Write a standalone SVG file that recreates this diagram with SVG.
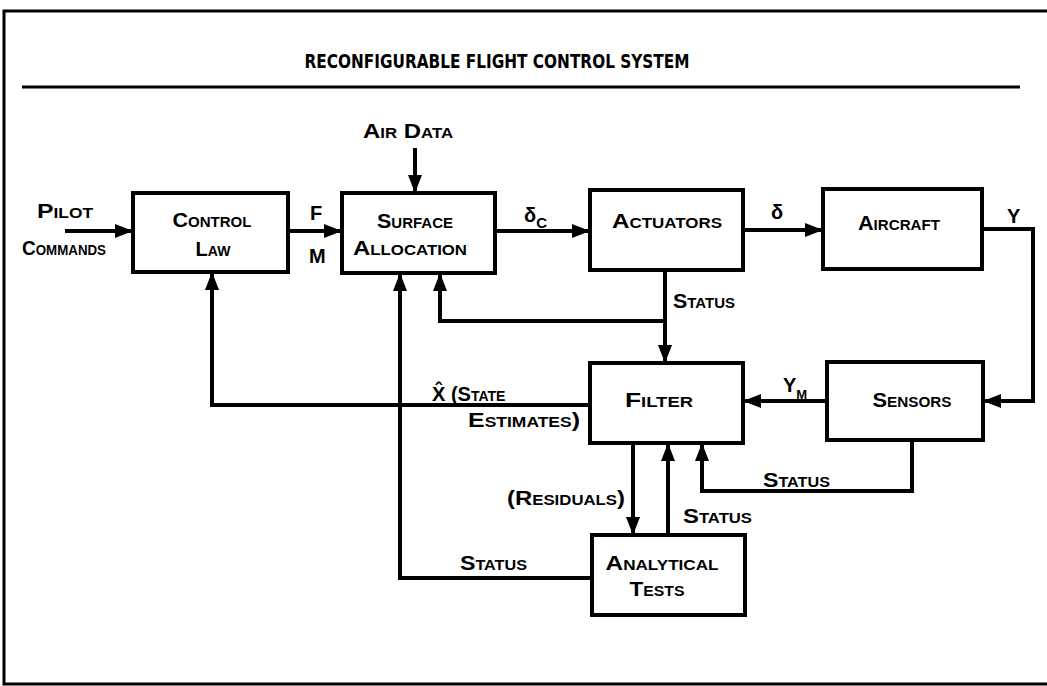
<svg xmlns="http://www.w3.org/2000/svg" width="1047" height="686" viewBox="0 0 1047 686">
<style>
.box{fill:#fff;stroke:#000;stroke-width:4}
.ln{fill:none;stroke:#000;stroke-width:4}
.t{font-family:"Liberation Sans",Arial,sans-serif;font-weight:bold;font-size:20px;font-variant:small-caps;fill:#000}
.n{font-variant:normal}
.c{text-anchor:middle}
.title{font-family:"DejaVu Sans Condensed","Liberation Sans",sans-serif;font-weight:bold;font-size:20px;fill:#000}
</style>
<defs>
<marker id="ah" markerUnits="userSpaceOnUse" markerWidth="20" markerHeight="16" refX="18" refY="8" orient="auto">
<path d="M0,1 L18,8 L0,15 Z" fill="#000"/>
</marker>
</defs>
<rect width="1047" height="686" fill="#fff"/>
<g id="frame">
<path d="M1047 11 H4 V684 H1047" fill="none" stroke="#000" stroke-width="3"/>
<line x1="22" y1="87" x2="1020" y2="87" stroke="#000" stroke-width="3"/>
<text class="title" x="497" y="68" text-anchor="middle" textLength="385" lengthAdjust="spacingAndGlyphs">RECONFIGURABLE FLIGHT CONTROL SYSTEM</text>
</g>
<g id="connectors">
<path class="ln" d="M65 231 H133" marker-end="url(#ah)"/>
<path class="ln" d="M288 231 H342" marker-end="url(#ah)"/>
<path class="ln" d="M415 148 V193" marker-end="url(#ah)"/>
<path class="ln" d="M495 231 H590" marker-end="url(#ah)"/>
<path class="ln" d="M743 230 H823" marker-end="url(#ah)"/>
<path class="ln" d="M982 229 H1033 V401 H983" marker-end="url(#ah)"/>
<path class="ln" d="M827 401 H743" marker-end="url(#ah)"/>
<path class="ln" d="M912 440 V491 H702 V443" marker-end="url(#ah)"/>
<path class="ln" d="M665 270 V363" marker-end="url(#ah)"/>
<path class="ln" d="M665 321 H440 V273" marker-end="url(#ah)"/>
<path class="ln" d="M590 405 H212 V272" marker-end="url(#ah)"/>
<path class="ln" d="M592 578 H400 V273" marker-end="url(#ah)"/>
<path class="ln" d="M633 443 V535" marker-end="url(#ah)"/>
<path class="ln" d="M668 535 V443" marker-end="url(#ah)"/>
</g>
<g id="labels">
<text class="t" x="37" y="218" textLength="56" lengthAdjust="spacingAndGlyphs">Pilot</text>
<text class="t" x="22" y="255" textLength="84" lengthAdjust="spacingAndGlyphs">Commands</text>
<text class="t" x="363" y="138" textLength="90" lengthAdjust="spacingAndGlyphs">Air Data</text>
<text class="t" x="310" y="220">F</text>
<text class="t" x="309" y="263" font-size="15">M</text>
<text class="t n" x="524" y="222" font-size="14">δ<tspan dy="6" font-size="15">C</tspan></text>
<text class="t n" x="771" y="219" font-size="14">δ</text>
<text class="t" x="1007" y="223" font-size="15">Y</text>
<text class="t" x="783" y="392" font-size="15">Y<tspan dy="7" font-size="13">M</tspan></text>
<text class="t" x="673" y="308" textLength="62" lengthAdjust="spacingAndGlyphs">Status</text>
<text class="t" x="432" y="401">X̂ <tspan>(State</tspan></text>
<text class="t" x="468" y="427" textLength="112" lengthAdjust="spacingAndGlyphs">Estimates)</text>
<text class="t" x="507" y="505" textLength="118" lengthAdjust="spacingAndGlyphs">(Residuals)</text>
<text class="t" x="683" y="523" textLength="69" lengthAdjust="spacingAndGlyphs">Status</text>
<text class="t" x="763" y="487" textLength="67" lengthAdjust="spacingAndGlyphs">Status</text>
<text class="t" x="460" y="570" textLength="67" lengthAdjust="spacingAndGlyphs">Status</text>
</g>
<g id="control-law">
<rect class="box" x="133" y="193" width="155" height="79"/>
<text class="t c" x="212" y="227" textLength="79" lengthAdjust="spacingAndGlyphs">Control</text>
<text class="t c" x="213" y="256">Law</text>
</g>
<g id="surface-allocation">
<rect class="box" x="342" y="193" width="153" height="80"/>
<text class="t c" x="415" y="228" textLength="76" lengthAdjust="spacingAndGlyphs">Surface</text>
<text class="t c" x="410" y="255" textLength="114" lengthAdjust="spacingAndGlyphs">Allocation</text>
</g>
<g id="actuators">
<rect class="box" x="590" y="190" width="153" height="80"/>
<text class="t c" x="667" y="228" textLength="110" lengthAdjust="spacingAndGlyphs">Actuators</text>
</g>
<g id="aircraft">
<rect class="box" x="823" y="189" width="159" height="80"/>
<text class="t c" x="899" y="230" textLength="82" lengthAdjust="spacingAndGlyphs">Aircraft</text>
</g>
<g id="filter">
<rect class="box" x="590" y="363" width="153" height="80"/>
<text class="t c" x="659" y="407" textLength="68" lengthAdjust="spacingAndGlyphs">Filter</text>
</g>
<g id="sensors">
<rect class="box" x="827" y="362" width="156" height="78"/>
<text class="t c" x="912" y="407" textLength="79" lengthAdjust="spacingAndGlyphs">Sensors</text>
</g>
<g id="analytical-tests">
<rect class="box" x="592" y="535" width="153" height="80"/>
<text class="t c" x="662" y="570" textLength="113" lengthAdjust="spacingAndGlyphs">Analytical</text>
<text class="t c" x="657" y="596" textLength="55" lengthAdjust="spacingAndGlyphs">Tests</text>
</g>
</svg>
